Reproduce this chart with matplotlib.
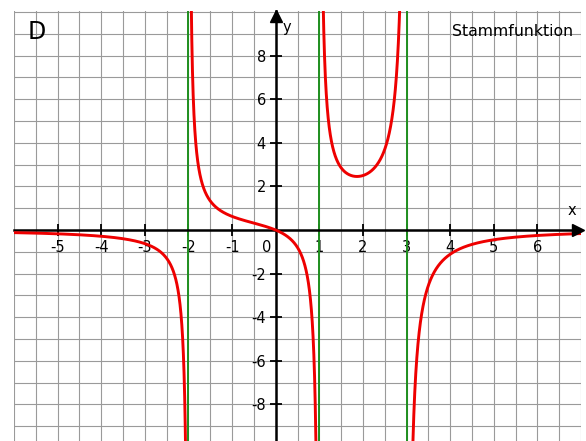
import numpy as np
import matplotlib
matplotlib.use("Agg")
import matplotlib.pyplot as plt

# Antiderivative as a sum of simple poles: F(x) = sum r_i / (x - p_i)
poles = [-2.0, 1.0, 3.0]
residues = [4 / 6, 5 / 6, -9 / 6]

x_range = (-6.0, 7.0)
y_range = (-9.68, 10.05)
x_tick_values = [-5, -4, -3, -2, -1, 1, 2, 3, 4, 5, 6]
y_tick_values = [-8, -6, -4, -2, 2, 4, 6, 8]
title_left = "D"
title_right = "Stammfunktion"

fig = plt.figure(figsize=(5.86, 4.41), dpi=100)
ax = fig.add_axes([14 / 586, 0.0, 567 / 586, 1 - 11 / 441])
ax.set_xlim(*x_range)
ax.set_ylim(*y_range)

# grid: half units along x, whole units along y
for gx in np.arange(x_range[0], x_range[1] + 0.01, 0.5):
    ax.axvline(gx, color="#9a9a9a", lw=0.8, zorder=0)
for gy in np.arange(-9, 11, 1):
    ax.axhline(gy, color="#9a9a9a", lw=0.8, zorder=0)

# asymptotes
for p in poles:
    ax.axvline(p, color="#1f8f1f", lw=1.4, zorder=2)

# curve, one branch between consecutive poles
edges = [x_range[0] - 0.5] + poles + [x_range[1] + 0.5]
for a, b in zip(edges[:-1], edges[1:]):
    xs = np.linspace(a + 1e-4, b - 1e-4, 4000)
    ys = np.zeros_like(xs)
    for p, r in zip(poles, residues):
        ys += r / (xs - p)
    ys[np.abs(ys) > 40] = np.nan
    ax.plot(xs, ys, color="#ee0000", lw=2.1, zorder=4, solid_capstyle="round")

# coordinate axes through the origin
for s in ["top", "right"]:
    ax.spines[s].set_visible(False)
ax.spines["left"].set_position(("data", 0))
ax.spines["bottom"].set_position(("data", 0))
ax.spines["left"].set_linewidth(1.8)
ax.spines["bottom"].set_linewidth(1.8)
ax.spines["left"].set_zorder(3)
ax.spines["bottom"].set_zorder(3)
ax.set_xticks(x_tick_values)
ax.set_yticks(y_tick_values)
ax.tick_params(axis="both", direction="inout", length=8, width=1.3,
               labelsize=10.5, colors="black")
ax.tick_params(axis="x", pad=3)
ax.tick_params(axis="y", pad=3)
ax.set_xticklabels([str(v) for v in x_tick_values])
ax.set_yticklabels([str(v) for v in y_tick_values])

ax.plot([x_range[1] - 0.06], [0], marker=">", markersize=9, color="black",
        clip_on=False, zorder=5)
ax.plot([0], [y_range[1] - 0.25], marker="^", markersize=9, color="black",
        clip_on=False, zorder=5)

ax.text(-0.1, -0.45, "0", ha="right", va="top", fontsize=10.5)
ax.text(6.78, 0.55, "x", ha="center", va="bottom", fontsize=10.5)
ax.text(0.15, 9.3, "y", ha="left", va="center", fontsize=10.5)

ax.text(-5.47, 9.1, title_left, ha="center", va="center", fontsize=17)
ax.text(6.81, 9.1, title_right, ha="right", va="center", fontsize=11.3)

fig.savefig("out.png", dpi=100, facecolor="white")
